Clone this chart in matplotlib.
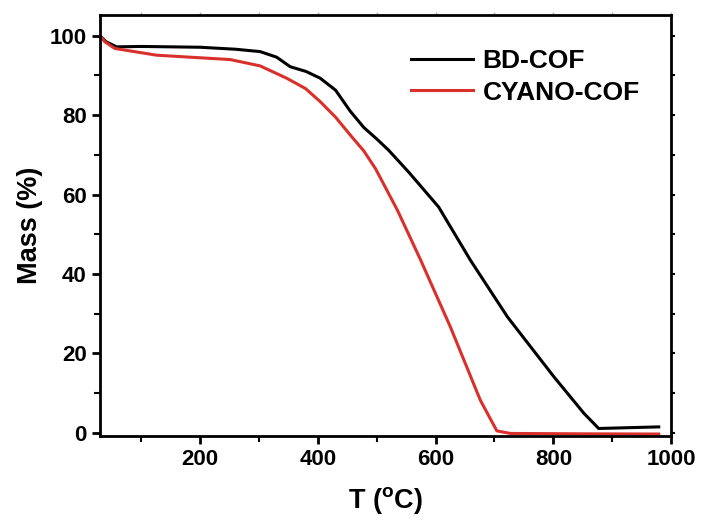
import numpy as np
import matplotlib
matplotlib.use("Agg")
import matplotlib.pyplot as plt
from matplotlib.ticker import MultipleLocator

plt.rcParams['font.family'] = ['Liberation Sans', 'DejaVu Sans']
plt.rcParams['font.weight'] = 'bold'

# TGA data
t_bd = [30, 40, 58, 100, 200, 260, 302, 330, 353, 380, 404, 430, 455, 478, 500, 520, 554,
        605, 659, 722, 801, 852, 877, 979]
m_bd = [100, 98.5, 97.2, 97.3, 97.1, 96.6, 96.0, 94.6, 92.2, 91.0, 89.3, 86.3, 81.0, 76.9,
        74.0, 71.2, 65.7, 56.9, 43.5, 29.2, 14.1, 4.9, 1.1, 1.5]

t_cy = [30, 38, 55, 126, 251, 302, 347, 379, 404, 430, 455, 478, 498, 535, 574, 625, 676,
        704, 727, 850, 979]
m_cy = [100, 98.5, 96.8, 95.1, 94.0, 92.4, 89.3, 86.7, 83.4, 79.5, 75.0, 71.0, 66.5, 56.1,
        43.7, 26.7, 8.2, 0.5, -0.15, -0.25, -0.3]

fig = plt.figure(figsize=(7.02, 5.20), dpi=100)
ax = fig.add_axes([0.1425, 0.1615, 0.8135, 0.8095])

ax.plot(t_bd, m_bd, color='black', lw=2.2, label='BD-COF')
ax.plot(t_cy, m_cy, color='#d9302c', lw=2.2, label='CYANO-COF')

ax.set_xlim(30, 1000)
ax.set_ylim(-0.8, 105.2)
ax.xaxis.set_major_locator(MultipleLocator(200))
ax.xaxis.set_minor_locator(MultipleLocator(100))
ax.yaxis.set_major_locator(MultipleLocator(20))
ax.yaxis.set_minor_locator(MultipleLocator(10))
ax.set_xticks([200, 400, 600, 800, 1000])

for s in ax.spines.values():
    s.set_linewidth(2)
ax.tick_params(which='major', direction='out', length=6, width=2, labelsize=16)
ax.tick_params(which='minor', direction='out', length=4, width=1.5)
# faint mirrored ticks on top and right
ax2 = ax.secondary_xaxis('top')
ax2.xaxis.set_major_locator(MultipleLocator(100))
ax2.tick_params(direction='out', length=2.5, width=1, colors='#b0b0b0', labeltop=False)
ax2.spines['top'].set_visible(False)
ax3 = ax.secondary_yaxis('right')
ax3.yaxis.set_major_locator(MultipleLocator(10))
ax3.tick_params(direction='out', length=3, width=1.5, labelright=False)
ax3.spines['right'].set_visible(False)

ax.set_xlabel('T ($^\\mathregular{o}$C)', fontsize=19.5, fontweight='bold', labelpad=11)
ax.set_ylabel('Mass (%)', fontsize=19.5, fontweight='bold', labelpad=5)

ax.legend(loc='upper left', bbox_to_anchor=(0.545, 0.92), frameon=False,
          borderaxespad=0, borderpad=0, fontsize=19, handlelength=2.35,
          handletextpad=0.35, labelspacing=0.3)

fig.savefig('out.png', dpi=100)
